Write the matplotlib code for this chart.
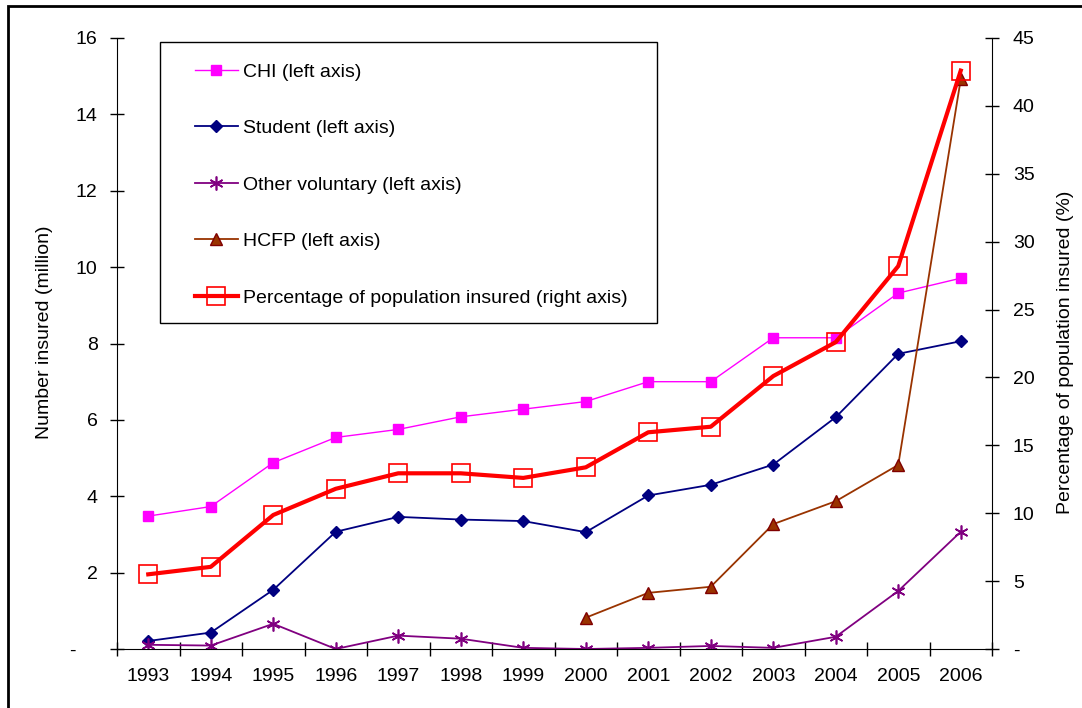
import matplotlib
matplotlib.use("Agg")
import matplotlib.pyplot as plt
from matplotlib.patches import Rectangle
import numpy as np

plt.rcParams['font.family'] = ['Liberation Sans', 'DejaVu Sans']

years = ["1993", "1994", "1995", "1996", "1997", "1998", "1999",
         "2000", "2001", "2002", "2003", "2004", "2005", "2006"]
chi = [3.48, 3.73, 4.88, 5.54, 5.75, 6.08, 6.28, 6.48, 7.0, 7.0, 8.15, 8.15, 9.32, 9.71]
student = [0.21, 0.43, 1.55, 3.07, 3.46, 3.39, 3.35, 3.06, 4.02, 4.30, 4.83, 6.07, 7.73, 8.06]
other_vol = [0.11, 0.09, 0.66, 0.0, 0.35, 0.27, 0.03, 0.0, 0.03, 0.08, 0.03, 0.32, 1.52, 3.07]
hcfp = [np.nan, np.nan, np.nan, np.nan, np.nan, np.nan, np.nan,
        0.82, 1.47, 1.63, 3.27, 3.87, 4.82, 14.92]
pct_insured = [5.5, 6.05, 9.87, 11.8, 12.94, 12.94, 12.6, 13.38, 15.96, 16.37, 20.1, 22.6, 28.2, 42.6]

left_ticks = [0, 2, 4, 6, 8, 10, 12, 14, 16]
left_labels = ["-    ", "2", "4", "6", "8", "10", "12", "14", "16"]
right_ticks = [0, 5, 10, 15, 20, 25, 30, 35, 40, 45]
right_labels = ["-", "5", "10", "15", "20", "25", "30", "35", "40", "45"]

W, H = 1082, 708
fig = plt.figure(figsize=(W / 100, H / 100), dpi=100)
AX_L, AX_R, AX_T, AX_B = 117, 992, 38, 649
ax = fig.add_axes([AX_L / W, 1 - AX_B / H, (AX_R - AX_L) / W, (AX_B - AX_T) / H])
ax2 = ax.twinx()

def axx(px):
    return (px - AX_L) / (AX_R - AX_L)

def axy(py):
    return (AX_B - py) / (AX_B - AX_T)

x = np.arange(len(years))
FS = 14

l1, = ax.plot(x, chi, color='#FF00FF', lw=1.0, marker='s', ms=6.5,
              mfc='#FF00FF', mec='#FF00FF', label='CHI (left axis)')
l2, = ax.plot(x, student, color='#000080', lw=1.3, marker='D', ms=6,
              mfc='#000080', mec='#000080', label='Student (left axis)')
l3, = ax.plot(x, other_vol, color='#800080', lw=1.3, marker=(6, 2, 0), ms=10,
              mec='#800080', mew=1.2, label='Other voluntary (left axis)')
l4, = ax.plot(x, hcfp, color='#993300', lw=1.3, marker='^', ms=8,
              mfc='#993300', mec='#800000', label='HCFP (left axis)')
l5, = ax2.plot(x, pct_insured, color='#FF0000', lw=3.0, marker='s', ms=13,
               mfc='none', mec='#FF0000', mew=1.2,
               label='Percentage of population insured (right axis)')

ax.set_xlim(-0.5, len(years) - 0.5)
ax.set_ylim(0, 16)
ax2.set_ylim(0, 45)

ax.set_xticks(np.arange(-0.5, len(years), 1.0))
ax.set_xticklabels([])
ax.set_xticks(x, minor=True)
ax.set_xticklabels(years, minor=True, fontsize=FS)
ax.tick_params(axis='x', which='major', direction='inout', length=10, width=1)
ax.tick_params(axis='x', which='minor', length=0, pad=14)

ax.set_yticks(left_ticks)
ax.set_yticklabels(left_labels, fontsize=FS)
ax.tick_params(axis='y', direction='inout', length=10, width=1, pad=9)
ax2.set_yticks(right_ticks)
ax2.set_yticklabels(right_labels, fontsize=FS)
ax2.tick_params(axis='y', direction='inout', length=10, width=1, pad=10)

for a in (ax, ax2):
    a.spines['top'].set_visible(False)
ax.spines['right'].set_visible(False)
ax2.spines['left'].set_visible(False)
ax2.spines['bottom'].set_visible(False)

ax.set_ylabel('Number insured (million)', fontsize=FS)
ax.yaxis.set_label_coords(axx(53), axy(332))
ax2.set_ylabel('Percentage of population insured (%)', fontsize=FS)
ax2.yaxis.set_label_coords(axx(1057), axy(352))

# legend frame
ax2.add_patch(Rectangle((axx(160), axy(323)), axx(657) - axx(160), axy(42) - axy(323),
                        transform=ax2.transAxes, facecolor='white', edgecolor='black',
                        lw=1.0, zorder=5, clip_on=False))
leg = ax2.legend(handles=[l1, l2, l3, l4, l5], loc='upper left',
                 bbox_to_anchor=(axx(195), axy(63)),
                 fontsize=FS, frameon=False, labelspacing=2.0, handlelength=2.2,
                 handletextpad=0.25, borderpad=0, borderaxespad=0)
leg.set_zorder(6)

fig.patches.append(Rectangle((8 / W, -0.1), 1.2, 1.1 - 6 / H, transform=fig.transFigure,
                             fill=False, edgecolor='black', lw=2))

fig.savefig('out.png', dpi=100)
